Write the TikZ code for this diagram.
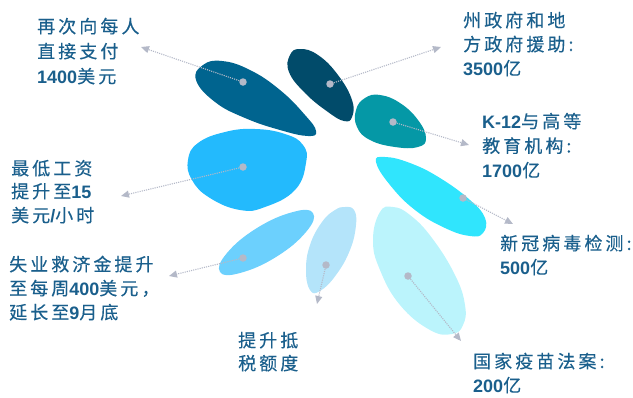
\documentclass[tikz,border=0pt]{standalone}
\usepackage{fontspec}
\setmainfont{Noto Sans CJK SC}[LetterSpace=17,FakeBold=0.3]
\newfontfamily\latf{Liberation Sans}
\newcommand\dg[1]{{\latf\bfseries #1}}
\usetikzlibrary{arrows.meta}
\definecolor{txt}{HTML}{1A5F8C}
\definecolor{dotc}{HTML}{B4B9C8}
\definecolor{pA}{HTML}{00648F}
\definecolor{pB}{HTML}{014B6A}
\definecolor{pC}{HTML}{0598A6}
\definecolor{pD}{HTML}{30E5FD}
\definecolor{pE}{HTML}{BBF4FC}
\definecolor{pF}{HTML}{B4E4FA}
\definecolor{pG}{HTML}{6CD0FD}
\definecolor{pH}{HTML}{23BAFD}
\begin{document}
\begin{tikzpicture}[x=1pt,y=-1pt,
  lab/.style={inner sep=0pt,anchor=base west,text=txt,font=\fontsize{18}{24}\selectfont},
  dotn/.style={circle,fill=dotc,inner sep=0pt,minimum size=7.5pt},
  arr/.style={draw=dotc,line width=1.1pt,dash pattern=on 1.1pt off 1.1pt,-{Triangle[length=8pt,width=7pt,fill=dotc]}},
  petal/.style={smooth cycle,tension=0.75}]
\useasboundingbox (0,0) rectangle (633,397);
% petals
\fill[pA] plot[petal] coordinates {(196,80) (203,65) (222,61) (250,70) (280,90) (305,115) (316,131) (308,136) (280,130) (245,118) (215,102)};
\fill[pB] plot[petal] coordinates {(290,55) (300,49) (318,55) (338,75) (352,100) (352,117) (344,121) (328,112) (305,93) (289,72)};
\fill[pC] plot[petal] coordinates {(356,110) (365,98) (380,95) (400,103) (418,120) (426,138) (418,147) (395,147) (370,140) (357,127)};
\fill[pD] plot[petal] coordinates {(376,162) (385,157) (410,163) (440,178) (470,200) (485,218) (483,233) (470,236) (445,228) (415,210) (390,185)};
\fill[pE] plot[petal] coordinates {(380,212) (393,207) (410,215) (432,238) (455,275) (465,305) (463,325) (452,334) (430,330) (400,305) (380,270) (373,240)};
\fill[pF] plot[petal] coordinates {(345,207) (354,210) (356,225) (350,250) (336,275) (320,291) (310,290) (306,270) (310,245) (322,222) (335,210)};
\fill[pG] plot[petal] coordinates {(313,213) (306,232) (276,257) (240,273) (220,272) (227,253) (257,228) (293,212)};
\fill[pH] plot[petal] coordinates {(188,160) (198,143) (225,132) (255,129) (285,134) (303,145) (306,163) (295,190) (265,207) (240,210) (210,198) (192,180)};
% dots
\node[dotn] (d1) at (243,82) {};
\node[dotn] (d2) at (330,84) {};
\node[dotn] (d3) at (393,122) {};
\node[dotn] (d4) at (463,198) {};
\node[dotn] (d5) at (408,276) {};
\node[dotn] (d6) at (326,265) {};
\node[dotn] (d7) at (243,258) {};
\node[dotn] (d8) at (243,167) {};
% arrow ends
\coordinate (a1) at (141,47);
\coordinate (a2) at (441,47);
\coordinate (a3) at (469,145);
\coordinate (a4) at (513,224);
\coordinate (a5) at (461,341);
\coordinate (a6) at (317,304);
\coordinate (a7) at (169,276);
\coordinate (a8) at (121,196);
\draw[arr] (d1) -- (a1);
\draw[arr] (d2) -- (a2);
\draw[arr] (d3) -- (a3);
\draw[arr] (d4) -- (a4);
\draw[arr] (d5) -- (a5);
\draw[arr] (d6) -- (a6);
\draw[arr] (d7) -- (a7);
\draw[arr] (d8) -- (a8);
% labels
\node[lab] (t1a) at (37,33) {再次向每人};
\node[lab] (t1b) at (37,58) {直接支付};
\node[lab] (t1c) at (37,83) {\dg{1400}美元};
\node[lab] (t2a) at (463,27) {州政府和地};
\node[lab] (t2b) at (463,51) {方政府援助:};
\node[lab] (t2c) at (463,75) {\dg{3500}亿};
\node[lab] (t3a) at (482,128) {\dg{K-12}与高等};
\node[lab] (t3b) at (482,152.5) {教育机构:};
\node[lab] (t3c) at (482,177) {\dg{1700}亿};
\node[lab] (t4a) at (500,250) {新冠病毒检测:};
\node[lab] (t4b) at (500,274) {\dg{500}亿};
\node[lab] (t5a) at (473,368) {国家疫苗法案:};
\node[lab] (t5b) at (473,392) {\dg{200}亿};
\node[lab] (t6a) at (238,347) {提升抵};
\node[lab] (t6b) at (238,370) {税额度};
\node[lab] (t7a) at (9,271) {失业救济金提升};
\node[lab] (t7b) at (9,295) {至每周\dg{400}美元，};
\node[lab] (t7c) at (9,319) {延长至\dg{9}月底};
\node[lab] (t8a) at (11,175) {最低工资};
\node[lab] (t8b) at (11,198) {提升至\dg{15}};
\node[lab] (t8c) at (11,222) {美元\dg{/}小时};
\end{tikzpicture}
\end{document}
